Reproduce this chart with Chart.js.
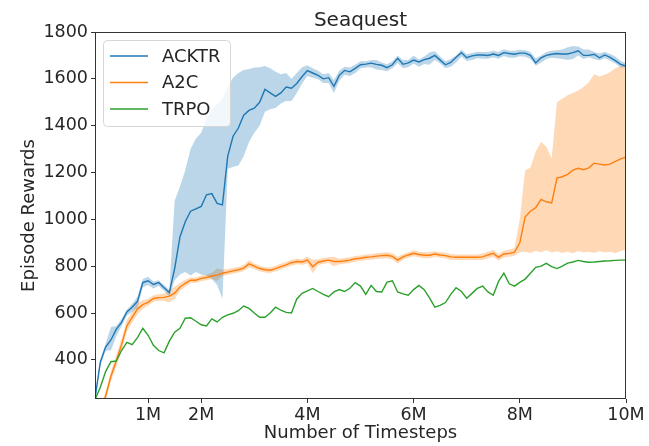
<!DOCTYPE html>
<html>
<head>
<meta charset="utf-8">
<script src="https://cdn.jsdelivr.net/npm/chart.js@4.4.0/dist/chart.umd.min.js"></script>
<style>
  body { margin: 0; background: #fff; }
</style>
</head>
<body>
<canvas id="seaquest" width="649" height="446"></canvas>
<script>
// timesteps in millions
const steps = [
  0, 0.1, 0.2, 0.3, 0.4, 0.5, 0.6, 0.7, 0.8, 0.9,
  1, 1.1, 1.2, 1.3, 1.4, 1.5, 1.6, 1.7, 1.8, 1.9,
  2, 2.1, 2.2, 2.3, 2.4, 2.5, 2.6, 2.7, 2.8, 2.9,
  3, 3.1, 3.2, 3.3, 3.4, 3.5, 3.6, 3.7, 3.8, 3.9,
  4, 4.1, 4.2, 4.3, 4.4, 4.5, 4.6, 4.7, 4.8, 4.9,
  5, 5.1, 5.2, 5.3, 5.4, 5.5, 5.6, 5.7, 5.8, 5.9,
  6, 6.1, 6.2, 6.3, 6.4, 6.5, 6.6, 6.7, 6.8, 6.9,
  7, 7.1, 7.2, 7.3, 7.4, 7.5, 7.6, 7.7, 7.8, 7.9,
  8, 8.1, 8.2, 8.3, 8.4, 8.5, 8.6, 8.7, 8.8, 8.9,
  9, 9.1, 9.2, 9.3, 9.4, 9.5, 9.6, 9.7, 9.8, 9.9,
  10
];

const acktrMean = [
  236, 390, 455, 485, 530, 560, 605, 625, 650, 730,
  738, 722, 730, 708, 688, 790, 925, 990, 1035, 1045,
  1055, 1105, 1110, 1068, 1062, 1270, 1355, 1390, 1445, 1465,
  1475, 1500, 1555, 1540, 1525, 1540, 1565, 1560, 1580, 1610,
  1635, 1625, 1615, 1600, 1605, 1568, 1615, 1636, 1630, 1645,
  1660, 1663, 1667, 1662, 1658, 1648, 1660, 1688, 1662, 1668,
  1680, 1672, 1682, 1688, 1700, 1680, 1660, 1670, 1692, 1712,
  1690, 1698, 1702, 1702, 1700, 1706, 1700, 1712, 1708, 1705,
  1710, 1710, 1700, 1668, 1690, 1700, 1705, 1708, 1706, 1706,
  1712, 1720, 1700, 1700, 1705, 1690, 1702, 1692, 1678, 1662,
  1655
];
const acktrLow = [
  220, 375, 440, 440, 500, 545, 590, 605, 625, 710,
  720, 705, 715, 695, 672, 740, 765, 775, 760, 775,
  765, 760, 745, 720, 660, 1215, 1225, 1230, 1270, 1330,
  1370, 1400, 1460, 1470, 1475, 1495, 1505, 1505, 1540, 1580,
  1612, 1605, 1598, 1582, 1582, 1540, 1592, 1618, 1612, 1625,
  1645, 1648, 1650, 1640, 1638, 1632, 1645, 1668, 1645, 1650,
  1665, 1652, 1663, 1660, 1682, 1665, 1645, 1652, 1670, 1695,
  1676, 1680, 1688, 1686, 1686, 1692, 1686, 1698, 1690, 1690,
  1696, 1694, 1685, 1656, 1670, 1685, 1690, 1688, 1685, 1680,
  1685, 1700, 1685, 1692, 1685, 1678, 1688, 1678, 1665, 1648,
  1648
];
const acktrHigh = [
  250, 400, 470, 540, 545, 575, 615, 640, 670, 745,
  755, 735, 740, 720, 700, 1080, 1140, 1210, 1300, 1345,
  1370, 1430, 1467, 1490, 1515, 1565, 1605, 1625, 1638, 1642,
  1648, 1650, 1655, 1645, 1630, 1620, 1625, 1600, 1625, 1650,
  1658, 1645, 1635, 1620, 1625, 1595, 1635, 1652, 1648, 1660,
  1675, 1675, 1680, 1680, 1670, 1662, 1675, 1700, 1680, 1680,
  1700, 1683, 1695, 1712, 1718, 1695, 1675, 1685, 1700, 1725,
  1705, 1710, 1716, 1715, 1715, 1720, 1715, 1726, 1720, 1720,
  1724, 1722, 1715, 1688, 1700, 1715, 1720, 1722, 1725, 1735,
  1740, 1738, 1725, 1725, 1715, 1708, 1716, 1706, 1695, 1676,
  1668
];

const a2cMean = [
  100, 180, 245, 330, 395, 465, 545, 582, 618, 636,
  646, 662, 666, 667, 672, 685, 711, 727, 740, 740,
  748, 752, 758, 762, 770, 775, 780, 785, 792, 810,
  800, 790, 785, 783, 790, 798, 806, 815, 820, 818,
  826, 798, 817, 822, 826, 820, 820, 822, 826, 832,
  834, 838, 840, 843, 845, 847, 842, 826, 840, 848,
  855, 850, 847, 847, 852, 848, 845, 840, 838, 838,
  838, 838, 838, 840, 848, 855, 838, 852, 855, 860,
  900, 1010, 1035, 1050, 1085, 1075, 1070, 1176, 1182, 1192,
  1210, 1218, 1212, 1220, 1240, 1236, 1232, 1236, 1248, 1258,
  1266
];
const a2cLow = [
  80, 160, 225, 310, 370, 440, 520, 560, 595, 618,
  632, 648, 652, 652, 645, 660, 695, 712, 728, 728,
  736, 740, 744, 738, 758, 763, 768, 773, 780, 795,
  788, 778, 773, 771, 778, 786, 794, 802, 808, 806,
  812, 770, 805, 810, 814, 800, 808, 810, 814, 820,
  822, 826, 828, 831, 833, 834, 829, 812, 828, 836,
  842, 838, 834, 834, 840, 836, 833, 828, 826, 826,
  826, 826, 826, 826, 834, 840, 824, 838, 840, 845,
  860, 862, 856, 866, 860, 868, 858, 864, 856, 862,
  855, 865, 858, 862, 856, 864, 858, 862, 856, 865,
  870
];
const a2cHigh = [
  120, 200, 265, 350, 420, 490, 570, 605, 645, 655,
  660, 676, 680, 682, 700, 712, 728, 742, 752, 752,
  760, 764, 772, 790, 785, 788, 792, 797, 805, 825,
  812, 802, 797, 795, 802, 810, 818, 828, 832, 830,
  840, 828, 830, 835, 838, 840, 832, 835, 838, 844,
  846, 850, 852, 855, 857, 860, 855, 840, 852, 860,
  868, 862, 860, 860, 864, 860, 857, 852, 850, 850,
  850, 850, 850, 854, 862, 870, 852, 866, 870, 878,
  1000, 1210, 1220, 1290, 1330, 1310, 1260, 1500, 1515, 1530,
  1540, 1550, 1565, 1585, 1620, 1610, 1618, 1628, 1645, 1655,
  1660
];

const trpoMean = [
  230, 283, 350, 392, 395, 440, 475, 465, 495, 535,
  505, 462, 440, 430, 480, 518, 535, 578, 580, 565,
  550, 545, 575, 562, 582, 592, 599, 610, 630, 620,
  600, 582, 582, 600, 625, 612, 603, 600, 660, 684,
  695, 705, 692, 680, 670, 690, 700, 692, 706, 730,
  715, 680, 718, 692, 690, 732, 738, 690, 682, 676,
  700, 718, 700, 665, 625, 633, 645, 680, 708, 692,
  663, 684, 705, 715, 690, 676, 735, 770, 725, 715,
  731, 745, 770, 795, 800, 812, 798, 790, 800, 813,
  818, 825, 820, 817, 818, 820, 822, 823, 825, 826,
  826
];

const seriesNames = ['ACKTR', 'A2C', 'TRPO'];
const seriesColors = ['#1f77b4', '#ff7f0e', '#2ca02c'];
const bandColors = ['rgba(31,119,180,0.3)', 'rgba(255,127,14,0.3)'];

const xTickValues = [1, 2, 4, 6, 8, 10];
const xTickLabels = ['1M', '2M', '4M', '6M', '8M', '10M'];
const yTickValues = [400, 600, 800, 1000, 1200, 1400, 1600, 1800];

const pts = arr => steps.map((x, i) => ({x: x, y: arr[i]}));
const FONT = 'DejaVu Sans';
const TXT = '#262626';

function bandLow(arr) {
  return { data: pts(arr), borderWidth: 0, borderColor: 'transparent',
           pointRadius: 0, fill: false, order: 10 };
}
function bandHigh(arr, color) {
  return { data: pts(arr), borderWidth: 0, borderColor: 'transparent',
           pointRadius: 0, fill: '-1', backgroundColor: color, order: 10 };
}
function meanLine(arr, i, order) {
  return { label: seriesNames[i], data: pts(arr), borderColor: seriesColors[i],
           borderWidth: 1.4, pointRadius: 0, fill: false, tension: 0, order: order };
}

// box around plot + title + legend inside the axes
const decorations = {
  id: 'decorations',
  afterDraw(chart) {
    const ctx = chart.ctx;
    const a = chart.chartArea;
    ctx.save();
    ctx.strokeStyle = '#333';
    ctx.lineWidth = 1;
    ctx.strokeRect(Math.round(a.left) + 0.5, Math.round(a.top) + 0.5,
                   Math.round(a.right - a.left) - 1, Math.round(a.bottom - a.top) - 1);

    ctx.fillStyle = TXT;
    ctx.font = '20px "' + FONT + '"';
    ctx.textAlign = 'center';
    ctx.textBaseline = 'alphabetic';
    ctx.fillText('Seaquest', (a.left + a.right) / 2, 26);

    // legend
    ctx.beginPath();
    ctx.roundRect(103.5, 40.5, 127, 86, 4);
    ctx.fillStyle = 'rgba(255,255,255,0.8)';
    ctx.fill();
    ctx.strokeStyle = '#d6d6d6';
    ctx.stroke();
    ctx.font = '18px "' + FONT + '"';
    ctx.textAlign = 'left';
    ctx.textBaseline = 'middle';
    seriesNames.forEach((name, i) => {
      const y = 56 + i * 26.5;
      ctx.beginPath();
      ctx.moveTo(110, y);
      ctx.lineTo(148, y);
      ctx.strokeStyle = seriesColors[i];
      ctx.lineWidth = 1.5;
      ctx.stroke();
      ctx.fillStyle = TXT;
      ctx.fillText(name, 162, y + 1);
    });
    ctx.restore();
  }
};

new Chart(document.getElementById('seaquest'), {
  type: 'line',
  data: {
    datasets: [
      bandLow(acktrLow), bandHigh(acktrHigh, bandColors[0]),
      bandLow(a2cLow), bandHigh(a2cHigh, bandColors[1]),
      meanLine(acktrMean, 0, 3),
      meanLine(a2cMean, 1, 2),
      meanLine(trpoMean, 2, 1)
    ]
  },
  options: {
    responsive: false,
    animation: false,
    devicePixelRatio: 1,
    layout: { padding: { top: 32, right: 23, bottom: 0, left: 0 } },
    plugins: { legend: { display: false }, title: { display: false }, tooltip: { enabled: false } },
    scales: {
      x: {
        type: 'linear', min: 0, max: 10,
        afterBuildTicks: s => { s.ticks = xTickValues.map(v => ({value: v})); },
        afterFit: s => { s.height = 47; },
        ticks: { autoSkip: false, maxRotation: 0, padding: 2, color: TXT,
                 font: { family: FONT, size: 17.5 },
                 callback: (v, i) => xTickLabels[i] },
        grid: { drawOnChartArea: false, drawTicks: true, tickLength: 4, color: '#333' },
        border: { display: false },
        title: { display: true, text: 'Number of Timesteps', color: TXT,
                 font: { family: FONT, size: 18 }, padding: { top: 0, bottom: 2 } }
      },
      y: {
        min: 233, max: 1800,
        afterBuildTicks: s => { s.ticks = yTickValues.map(v => ({value: v})); },
        afterFit: s => { s.width = 95; },
        ticks: { autoSkip: false, padding: 3, color: TXT,
                 font: { family: FONT, size: 17.5 },
                 callback: v => String(v) },
        grid: { drawOnChartArea: false, drawTicks: true, tickLength: 4, color: '#333' },
        border: { display: false },
        title: { display: true, text: 'Episode Rewards', color: TXT,
                 font: { family: FONT, size: 18 }, padding: { top: 19, bottom: 0 } }
      }
    }
  },
  plugins: [decorations]
});
</script>
</body>
</html>
